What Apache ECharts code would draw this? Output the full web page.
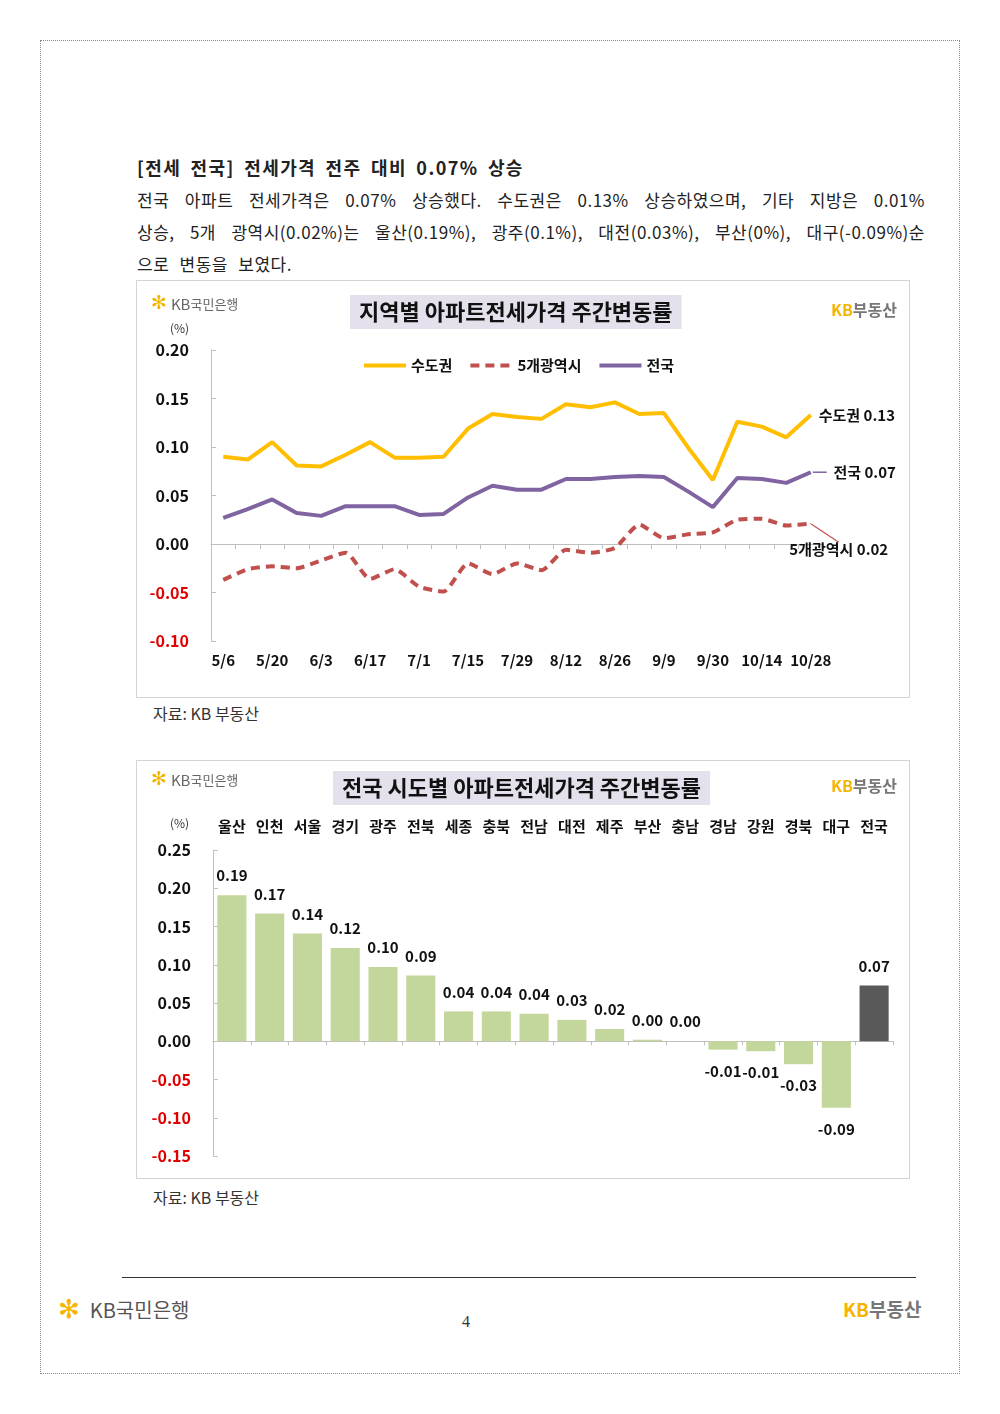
<!DOCTYPE html>
<html>
<head>
<meta charset="utf-8">
<script src="https://cdn.jsdelivr.net/npm/echarts@6/dist/echarts.min.js"></script>
<style>
  body { margin: 0; width: 1000px; height: 1414px; background: #fff; position: relative; font-family: "Noto Sans CJK KR", sans-serif; color: #222; }
  .abs { position: absolute; }
  #page { left: 40px; top: 40px; width: 918px; height: 1332px; border: 1px dotted #888; }
  #head { left: 137px; top: 154px; font-size: 18px; font-weight: bold; letter-spacing: 1.4px; word-spacing: 4px; white-space: nowrap; }
  .para { left: 137px; width: 788px; font-size: 17px; line-height: 32px; letter-spacing: 0.5px; word-spacing: 6px; }
  .just { text-align: justify; text-align-last: justify; }
  .box { border: 1px solid #d4d4d4; }
  #chart1 { left: 136px; top: 280px; width: 772px; height: 416px; }
  #chart2 { left: 136px; top: 760px; width: 772px; height: 417px; }
  .src { left: 153px; font-size: 16px; color: #333; }
  #rule { left: 122px; top: 1277px; width: 794px; border-top: 1.5px solid #333; }
  #foot1 { left: 58px; top: 1294px; font-size: 20px; color: #555; }
  #foot1 b { color: #f5b400; font-weight: normal; font-family: "DejaVu Sans"; font-size: 26px; margin-right: 10px; }
  #pnum { left: 462px; top: 1313px; font-family: "Liberation Serif", serif; font-size: 16px; color: #333; }
  #foot2 { left: 843px; top: 1295px; font-size: 19px; font-weight: bold; color: #777; }
  #foot2 span { color: #f5b400; }
</style>
</head>
<body>
<div id="page" class="abs"></div>
<div id="head" class="abs">[전세 전국] 전세가격 전주 대비 0.07% 상승</div>
<div class="abs para just" style="top:184px">전국 아파트 전세가격은 0.07% 상승했다. 수도권은 0.13% 상승하였으며, 기타 지방은 0.01%</div>
<div class="abs para just" style="top:216px">상승, 5개 광역시(0.02%)는 울산(0.19%), 광주(0.1%), 대전(0.03%), 부산(0%), 대구(-0.09%)순</div>
<div class="abs para" style="top:248px">으로 변동을 보였다.</div>
<div id="chart1" class="abs box"></div>
<div class="abs src" style="top:701px">자료: KB 부동산</div>
<div id="chart2" class="abs box"></div>
<div class="abs src" style="top:1185px">자료: KB 부동산</div>
<div id="rule" class="abs"></div>
<div id="foot1" class="abs"><b>✻</b>KB국민은행</div>
<div id="pnum" class="abs">4</div>
<div id="foot2" class="abs"><span>KB</span>부동산</div>

<script>
// 주간 기준일
var weeks = ['5/6', '5/13', '5/20', '5/27', '6/3', '6/10', '6/17', '6/24', '7/1', '7/8', '7/15', '7/22', '7/29',
  '8/5', '8/12', '8/19', '8/26', '9/2', '9/9', '9/23', '9/30', '10/7', '10/14', '10/21', '10/28']
var sudogwon = [0.090, 0.087, 0.105, 0.081, 0.080, 0.092, 0.105, 0.089, 0.089, 0.090, 0.119, 0.134, 0.131,
  0.129, 0.144, 0.141, 0.146, 0.134, 0.135, 0.099, 0.066, 0.126, 0.121, 0.110, 0.133]
var metro5 = [-0.037, -0.026, -0.023, -0.025, -0.017, -0.009, -0.036, -0.026, -0.044, -0.049, -0.020, -0.031, -0.020,
  -0.027, -0.006, -0.009, -0.004, 0.020, 0.006, 0.010, 0.012, 0.025, 0.026, 0.019, 0.021]
var national = [0.027, 0.036, 0.046, 0.032, 0.029, 0.039, 0.039, 0.039, 0.030, 0.031, 0.048, 0.060, 0.056,
  0.056, 0.067, 0.067, 0.069, 0.070, 0.069, 0.054, 0.038, 0.068, 0.067, 0.063, 0.074]

// 시도별
var regions = ['울산', '인천', '서울', '경기', '광주', '전북', '세종', '충북', '전남', '대전', '제주', '부산', '충남', '경남', '강원', '경북', '대구', '전국']
var regionRates = [0.191, 0.167, 0.141, 0.122, 0.097, 0.086, 0.039, 0.039, 0.036, 0.028, 0.016, 0.002, 0, -0.011, -0.013, -0.030, -0.087, 0.073]

var FONT = 'Noto Sans CJK KR'
var GRAY = '#bfbfbf'

function yLabelColor(v) {
  return Number(v) < 0 ? '#e00000' : '#111'
}

function logos(titleText, titleLeft, titleTop, pctTop) {
  return {
    title: [{
      text: titleText, left: titleLeft, top: titleTop,
      backgroundColor: '#e4e0ec', padding: [6, 9],
      textStyle: { fontFamily: FONT, fontSize: 22, fontWeight: 'bold', color: '#111' }
    }, {
      text: '(%)', left: 28, top: pctTop,
      textStyle: { fontFamily: FONT, fontSize: 12, fontWeight: 'normal', color: '#333' }
    }],
    graphic: [{
      type: 'text', left: 14, top: titleTop,
      style: {
        text: '{s|✻}{k|KB}{n|국민은행}',
        rich: {
          s: { fontSize: 19, fill: '#f5b400', fontFamily: 'DejaVu Sans', padding: [0, 4, 0, 0] },
          k: { fontSize: 15, fill: '#666', fontFamily: FONT },
          n: { fontSize: 13, fill: '#666', fontFamily: FONT }
        }
      }
    }, {
      type: 'text', right: 12, top: titleTop + 7,
      style: {
        text: '{k|KB}{n|부동산}',
        rich: {
          k: { fontSize: 16, fill: '#f5b400', fontWeight: 'bold', fontFamily: FONT },
          n: { fontSize: 16, fill: '#777', fontWeight: 'bold', fontFamily: FONT }
        }
      }
    }]
  }
}

// 지역별 주간변동률
var chart1 = echarts.init(document.getElementById('chart1'))
var head1 = logos('지역별 아파트전세가격 주간변동률', 213, 14, 36)
chart1.setOption({
  animation: false,
  title: head1.title,
  graphic: head1.graphic,
  legend: {
    left: 220, top: 72, itemWidth: 42, itemHeight: 12, itemGap: 16,
    itemStyle: { opacity: 0 },
    lineStyle: { width: 4 },
    textStyle: { fontFamily: FONT, fontSize: 15, fontWeight: 'bold', color: '#111' },
    data: ['수도권', '5개광역시', '전국']
  },
  grid: { left: 74, top: 69, right: 86, bottom: 56 },
  xAxis: [{
    type: 'category', data: weeks, position: 'bottom',
    axisLine: { onZero: true, lineStyle: { color: GRAY } },
    axisTick: { show: true, interval: 0, length: 5, lineStyle: { color: GRAY } },
    axisLabel: { show: false }
  }, {
    type: 'category', data: weeks, position: 'bottom',
    axisLine: { show: false, onZero: false }, axisTick: { show: false },
    axisLabel: { interval: 1, margin: 12, fontFamily: FONT, fontSize: 15, fontWeight: 'bold', color: '#111' }
  }],
  yAxis: {
    type: 'value', min: -0.1, max: 0.2, interval: 0.05,
    axisLine: { show: true, lineStyle: { color: GRAY } },
    axisTick: { show: true, inside: true, length: 5, lineStyle: { color: GRAY } },
    splitLine: { show: false },
    axisLabel: {
      margin: 22, fontFamily: FONT, fontSize: 16, fontWeight: 'bold',
      formatter: function (v) { return v.toFixed(2) },
      color: yLabelColor
    }
  },
  series: [{
    name: '수도권', type: 'line', data: sudogwon, symbol: 'none',
    itemStyle: { color: '#ffbf00' },
    lineStyle: { color: '#ffbf00', width: 4 },
    endLabel: {
      show: true, distance: 8, fontFamily: FONT, fontSize: 15, fontWeight: 'bold', color: '#111',
      formatter: function (p) { return p.seriesName + ' ' + p.value.toFixed(2) }
    }
  }, {
    name: '5개광역시', type: 'line', symbol: 'none', smooth: 0.2,
    data: metro5.map(function (v, i) {
      if (i !== metro5.length - 1) return v
      return { value: v, symbol: 'circle', symbolSize: 1, label: { show: true } }
    }),
    itemStyle: { color: '#c0504d' },
    lineStyle: { color: '#c0504d', width: 4, type: [9, 6] },
    label: {
      show: false, position: 'bottom', distance: 6,
      fontFamily: FONT, fontSize: 15, fontWeight: 'bold', color: '#111',
      formatter: function (p) { return p.seriesName + ' ' + p.value.toFixed(2) }
    },
    labelLayout: { dx: 28, dy: 12 },
    labelLine: { show: true, lineStyle: { color: '#c0504d', width: 1.2 } }
  }, {
    name: '전국', type: 'line', data: national, symbol: 'none',
    itemStyle: { color: '#8064a2' },
    lineStyle: { color: '#8064a2', width: 4 },
    endLabel: {
      show: true, distance: 2,
      formatter: function (p) { return '{l|}  {t|' + p.seriesName + ' ' + p.value.toFixed(2) + '}' },
      rich: {
        l: { width: 14, height: 1.5, backgroundColor: '#8064a2' },
        t: { fontFamily: FONT, fontSize: 15, fontWeight: 'bold', color: '#111' }
      }
    }
  }]
})

// 시도별 주간변동률
var chart2 = echarts.init(document.getElementById('chart2'))
var head2 = logos('전국 시도별 아파트전세가격 주간변동률', 196, 10, 51)
chart2.setOption({
  animation: false,
  title: head2.title,
  graphic: head2.graphic,
  grid: { left: 76, top: 89, right: 16, bottom: 22 },
  xAxis: [{
    type: 'category', data: regions, position: 'bottom',
    axisLine: { onZero: true, lineStyle: { color: GRAY } },
    axisTick: { show: true, interval: 0, length: 4, lineStyle: { color: GRAY } },
    axisLabel: { show: false }
  }, {
    type: 'category', data: regions, position: 'top',
    axisLine: { show: false, onZero: false }, axisTick: { show: false },
    axisLabel: { interval: 0, margin: 16, fontFamily: FONT, fontSize: 15, fontWeight: 'bold', color: '#111' }
  }],
  yAxis: {
    type: 'value', min: -0.15, max: 0.25, interval: 0.05,
    axisLine: { show: true, lineStyle: { color: GRAY } },
    axisTick: { show: true, inside: true, length: 5, lineStyle: { color: GRAY } },
    splitLine: { show: false },
    axisLabel: {
      margin: 22, fontFamily: FONT, fontSize: 16, fontWeight: 'bold',
      formatter: function (v) { return v.toFixed(2) },
      color: yLabelColor
    }
  },
  series: [{
    type: 'bar', xAxisIndex: 0, barCategoryGap: '23%',
    data: regionRates.map(function (v, i) {
      var neg = v < 0
      return {
        value: v,
        itemStyle: { color: regions[i] === '전국' ? '#595959' : '#c3d69b' },
        label: { position: neg ? 'bottom' : 'top', distance: neg ? 14 : 12 }
      }
    }),
    label: {
      show: true, fontFamily: FONT, fontSize: 15, fontWeight: 'bold', color: '#111',
      formatter: function (p) { return p.value.toFixed(2) }
    }
  }]
})
</script>
</body>
</html>
